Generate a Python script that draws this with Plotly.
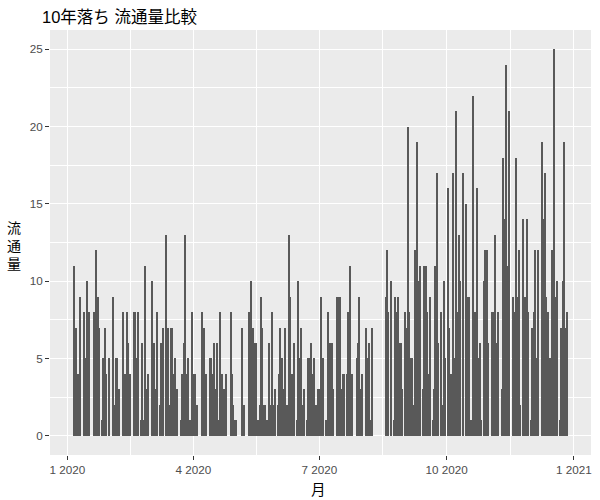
import pandas as pd
import plotly.graph_objects as go

# ---- data (daily counts, first day 2020-01-06) ----
start_date = "2020-01-06"
jan = [11, 7, 4, 4, 9, 0, 0, 8, 5, 10, 3, 8, 0, 0, 8, 5, 12, 9, 7, 0, 1, 5, 7, 4, 0, 5]
feb = [0, 0, 9, 2, 5, 5, 3, 0, 0, 8, 4, 4, 8, 6, 4, 0, 0, 8, 8, 5, 8, 0, 1, 6, 1, 11, 3, 4, 0]
mar = [0, 10, 2, 6, 3, 8, 0, 2, 6, 7, 0, 13, 7, 7, 2, 7, 7, 4, 5, 3, 0, 0, 1, 4, 6, 13, 4, 5, 0, 1, 8]
apr = [4, 4, 2, 2, 0, 0, 8, 7, 7, 4, 0, 0, 5, 5, 4, 6, 3, 6, 1, 8, 4, 4, 3, 0, 4, 0, 0, 8, 4, 2]
may = [1, 1, 0, 0, 0, 7, 0, 2, 0, 0, 8, 5, 10, 7, 6, 6, 0, 1, 2, 9, 7, 2, 2, 1, 1, 6, 2, 8, 2, 3, 0]
jun = [2, 4, 7, 5, 3, 7, 0, 2, 13, 9, 4, 4, 6, 0, 1, 10, 5, 7, 2, 3, 0, 1, 5, 5, 6, 4, 5, 0, 2, 3]
jul = [3, 9, 4, 5, 0, 1, 8, 4, 6, 6, 3, 0, 0, 9, 9, 9, 3, 4, 4, 0, 4, 8, 11, 4, 4, 0, 0, 5, 6, 9, 3]
aug = [4, 0, 0, 7, 5, 6, 1, 7, 0, 0, 0, 0, 0, 0, 0, 0, 0, 9, 12, 8, 0, 10, 0, 1, 9, 8, 9, 6, 6, 3, 0]
sep = [8, 7, 20, 8, 5, 5, 2, 12, 8, 19, 10, 11, 0, 3, 11, 11, 8, 4, 9, 0, 1, 3, 11, 17, 6, 0, 8, 2, 10, 5]
oct_ = [0, 16, 7, 4, 0, 17, 5, 21, 8, 13, 10, 0, 17, 0, 15, 9, 9, 0, 1, 22, 8, 8, 16, 5, 6, 1, 0, 10, 12, 12, 6]
nov = [0, 0, 8, 8, 13, 6, 8, 0, 0, 3, 18, 14, 24, 11, 21, 0, 0, 9, 8, 18, 9, 12, 2, 0, 14, 7, 9, 14, 8, 0]
dec = [1, 7, 8, 12, 5, 12, 0, 0, 19, 14, 17, 9, 8, 0, 5, 12, 7, 25, 9, 10, 0, 1, 7, 10, 19, 7, 8]

x_tick_dates = ["2020-01-01", "2020-04-01", "2020-07-01", "2020-10-01", "2021-01-01"]
x_tick_labels = ["1 2020", "4 2020", "7 2020", "10 2020", "1 2021"]
x_minor_dates = ["2020-02-15 12:00", "2020-05-16 12:00", "2020-08-16", "2020-11-16"]
y_ticks = [0, 5, 10, 15, 20, 25]
y_minor = [2.5, 7.5, 12.5, 17.5, 22.5]

title_text = "10年落ち 流通量比較"
x_title = "月"
y_title = "流<br>通<br>量"

values = jan + feb + mar + apr + may + jun + jul + aug + sep + oct_ + nov + dec
dates = pd.date_range(start_date, periods=len(values), freq="D")

fig = go.Figure()
fig.add_trace(go.Bar(
    x=dates, y=values,
    width=0.9 * 86400000,
    marker=dict(color="#595959", line=dict(width=0)),
    hoverinfo="x+y",
))

tick_font = dict(family="Liberation Sans, Arial, sans-serif", size=11.7, color="#4D4D4D")

L, R, T, B = 50, 9, 30, 45
PW, PH = 600 - L - R, 500 - T - B

fig.update_layout(
    width=600, height=500,
    margin=dict(l=L, r=R, t=T, b=B, autoexpand=False),
    paper_bgcolor="white",
    plot_bgcolor="#EBEBEB",
    showlegend=False,
    bargap=0,
    title=dict(
        text=title_text,
        font=dict(family="Liberation Sans, Noto Sans CJK JP", size=16.5, color="black"),
        x=42 / 600, xanchor="left", xref="container",
        y=1 - 17 / 500, yanchor="middle", yref="container",
    ),
    xaxis=dict(
        type="date", automargin=False,
        range=["2019-12-19 10:00", "2021-01-13 07:00"],
        tickvals=x_tick_dates, ticktext=x_tick_labels,
        tickfont=tick_font,
        ticks="outside", ticklen=4, tickwidth=1.07, tickcolor="#333333",
        showgrid=True, gridcolor="white", gridwidth=1.07,
        zeroline=False, showline=False,
        minor=dict(tickvals=x_minor_dates, showgrid=True, gridcolor="white",
                   gridwidth=0.53, ticks=""),
    ),
    yaxis=dict(
        automargin=False,
        range=[-1.25, 26.25],
        tickvals=y_ticks,
        tickfont=tick_font,
        ticks="outside", ticklen=4, tickwidth=1.07, tickcolor="#333333",
        showgrid=True, gridcolor="white", gridwidth=1.07,
        zeroline=False, showline=False,
        minor=dict(tickvals=y_minor, showgrid=True, gridcolor="white",
                   gridwidth=0.53, ticks=""),
    ),
    annotations=[
        dict(
            text=y_title, xref="paper", yref="paper",
            x=(14 - L) / PW, y=(500 - B - 245) / PH, xanchor="center", yanchor="middle",
            showarrow=False,
            font=dict(family="Noto Sans CJK JP", size=14, color="black"),
        ),
        dict(
            text=x_title, xref="paper", yref="paper",
            x=(318 - L) / PW, y=(500 - B - 488) / PH, xanchor="center", yanchor="middle",
            showarrow=False,
            font=dict(family="Noto Sans CJK JP", size=14.5, color="black"),
        ),
    ],
)

fig.write_html("out.html", config={"displayModeBar": False},
               post_script="document.body.style.margin='0';")
